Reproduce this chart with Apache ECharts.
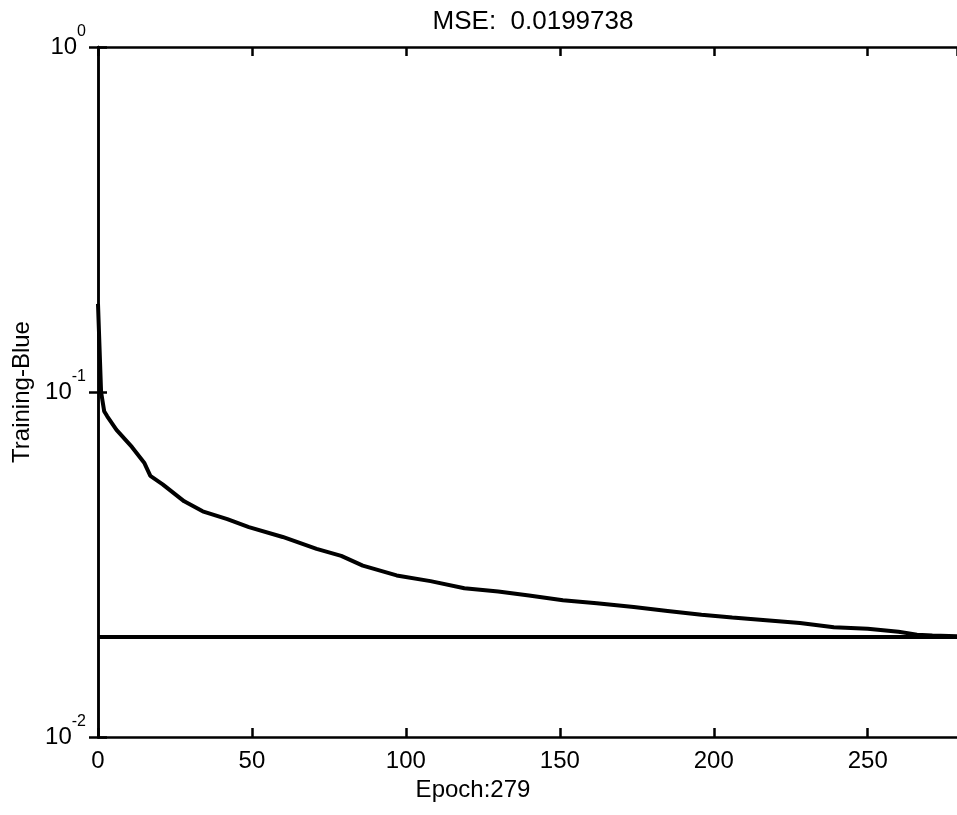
<!DOCTYPE html>
<html>
<head>
<meta charset="utf-8">
<script src="https://cdn.jsdelivr.net/npm/echarts@6/dist/echarts.min.js"></script>
<style>html,body{margin:0;padding:0;background:#fff;}#c{width:957px;height:815px;}</style>
</head>
<body>
<div id="c"></div>
<script>
const epochs = [0, 1, 2, 3, 6, 11, 15, 17, 21, 28, 34, 42, 49, 60, 71, 79, 86, 97, 108, 119, 130, 140, 151, 162, 174, 185, 196, 206, 217, 228, 239, 250, 260, 266, 271, 279];
const trainMSE = [0.18, 0.10, 0.088, 0.085, 0.0777, 0.0693, 0.0624, 0.0571, 0.0540, 0.0482, 0.0451, 0.0428, 0.0406, 0.0380, 0.0351, 0.0335, 0.0314, 0.0294, 0.0283, 0.0270, 0.0264, 0.0257, 0.0249, 0.0244, 0.0238, 0.0232, 0.0226, 0.0222, 0.0218, 0.0214, 0.0208, 0.0206, 0.0202, 0.0198, 0.0197, 0.0196];
const goalEpochs = [0, 279];
const goalMSE = [0.0195, 0.0195];
const xTicks = [0, 50, 100, 150, 200, 250];
const titleText = 'MSE:  0.0199738';
const xName = 'Epoch:279';
const yName = 'Training-Blue';

const FONT = '"Liberation Sans", Arial, Helvetica, sans-serif';
const chart = echarts.init(document.getElementById('c'));
const axisLine = {show: true, lineStyle: {color: '#000', width: 2.5}};
const tick = {show: true, inside: true, length: 9, lineStyle: {color: '#000', width: 2.5}};
const yRich = {
  b: {fontSize: 24, fontFamily: FONT, color: '#000', verticalAlign: 'middle'},
  s: {fontSize: 16, fontFamily: FONT, color: '#000', verticalAlign: 'middle', padding: [0, 0, 30, 0]}
};
chart.setOption({
  animation: false,
  backgroundColor: '#fff',
  title: [
    {text: titleText, left: 528, top: 4, textAlign: 'center',
     textStyle: {fontFamily: FONT, fontSize: 26, fontWeight: 'normal', color: '#000'}},
    {text: xName, left: 468, top: 773, textAlign: 'center',
     textStyle: {fontFamily: FONT, fontSize: 24, fontWeight: 'normal', color: '#000'}}
  ],
  grid: {left: 98, top: 47, width: 860, height: 690},
  xAxis: [
    {type: 'value', min: 0, max: 279, interval: 50, position: 'bottom',
     axisLine: axisLine, axisTick: tick, splitLine: {show: false},
     axisLabel: {margin: 12, fontFamily: FONT, fontSize: 24, color: '#000', showMaxLabel: false,
       formatter: v => xTicks.indexOf(v) >= 0 ? String(v) : ''}},
    {type: 'value', min: 0, max: 279, interval: 50, position: 'top',
     axisLine: axisLine, axisTick: tick, splitLine: {show: false}, axisLabel: {show: false}}
  ],
  yAxis: [
    {type: 'log', logBase: 10, min: 0.01, max: 1, position: 'left',
     name: yName, nameLocation: 'middle', nameGap: 58, nameRotate: 90,
     nameTextStyle: {fontFamily: FONT, fontSize: 24, color: '#000'},
     axisLine: axisLine, axisTick: tick, splitLine: {show: false}, minorTick: {show: false},
     axisLabel: {margin: 12, rich: yRich,
       formatter: v => '{b|10}{s|' + Math.round(Math.log10(v)) + '}'}},
    {type: 'log', logBase: 10, min: 0.01, max: 1, position: 'right',
     axisLine: axisLine, axisTick: tick, splitLine: {show: false}, axisLabel: {show: false}}
  ],
  series: [
    {type: 'line', data: epochs.map((e, i) => [e, trainMSE[i]]), showSymbol: false,
     lineStyle: {color: '#000', width: 4}, z: 3},
    {type: 'line', data: goalEpochs.map((e, i) => [e, goalMSE[i]]), showSymbol: false,
     lineStyle: {color: '#000', width: 4}, z: 2}
  ]
});
</script>
</body>
</html>
